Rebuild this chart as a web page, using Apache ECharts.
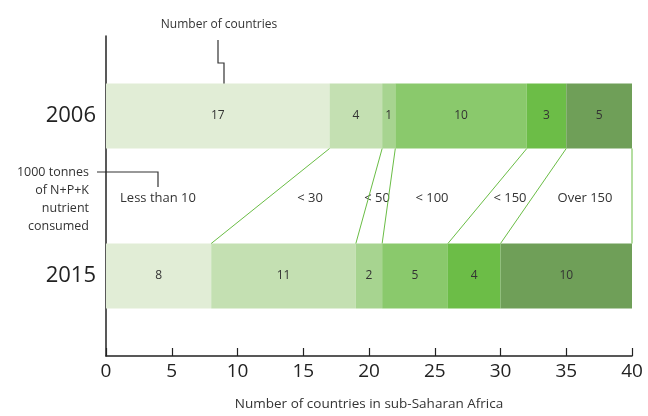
<!DOCTYPE html>
<html>
<head>
<meta charset="utf-8">
<script src="https://cdn.jsdelivr.net/npm/echarts@6/dist/echarts.min.js"></script>
<style>html,body{margin:0;padding:0;background:#fff;}#c{width:648px;height:416px;}</style>
</head>
<body>
<div id="c"></div>
<script>
var years = ['2006', '2015'];
var classes = ['Less than 10', '< 30', '< 50', '< 100', '< 150', 'Over 150'];
var counts2006 = [17, 4, 1, 10, 3, 5];
var counts2015 = [8, 11, 2, 5, 4, 10];
var xTicks = [0, 5, 10, 15, 20, 25, 30, 35, 40];
var colors = ['#e1edd6', '#c4e0b2', '#a7d490', '#8ac96c', '#6cbd47', '#6f9f58'];

var FONT = '"Open Sans", "Noto Sans", sans-serif';
var BAR_W = 65;

function cumulative(arr) {
  var out = [], s = 0;
  for (var i = 0; i < arr.length; i++) { s += arr[i]; out.push(s); }
  return out;
}
var cum06 = cumulative(counts2006);
var cum15 = cumulative(counts2015);
var connectors = cum06.map(function (v, i) { return [v, cum15[i]]; });

var series = classes.map(function (name, i) {
  return {
    name: name,
    type: 'bar',
    stack: 'total',
    barWidth: BAR_W,
    data: [counts2006[i], counts2015[i]],
    itemStyle: { color: colors[i] },
    label: { show: true, position: 'inside', color: '#333', fontSize: 12, fontFamily: FONT },
    silent: true
  };
});

series.push({
  type: 'custom',
  data: connectors,
  silent: true,
  z: 5,
  renderItem: function (params, api) {
    var p1 = api.coord([api.value(0), 0]);
    var p2 = api.coord([api.value(1), 1]);
    return {
      type: 'line',
      shape: { x1: p1[0], y1: p1[1] + BAR_W / 2, x2: p2[0], y2: p2[1] - BAR_W / 2 },
      style: { stroke: '#6abd45', lineWidth: 1 }
    };
  }
});

var midY = 198;
var classLabelX = [158, 310, 377, 432, 510, 585];
var graphics = classes.map(function (c, i) {
  return {
    type: 'text', x: classLabelX[i], y: midY,
    style: { text: c, fill: '#333', font: '13px ' + FONT, textAlign: 'center', textVerticalAlign: 'middle' }
  };
});
graphics.push(
  { type: 'text', x: 219, y: 25,
    style: { text: 'Number of countries', fill: '#333', font: '12px ' + FONT, textAlign: 'center', textVerticalAlign: 'middle' } },
  { type: 'polyline', shape: { points: [[218, 40], [218, 63], [224, 63], [224, 96]] },
    style: { stroke: '#333', lineWidth: 1.2, fill: null } },
  { type: 'text', x: 89, y: 163,
    style: { text: '1000 tonnes\nof N+P+K\nnutrient\nconsumed', fill: '#333', font: '12.5px ' + FONT, textAlign: 'right', lineHeight: 18 } },
  { type: 'polyline', shape: { points: [[97, 172], [158, 172], [158, 187]] },
    style: { stroke: '#333', lineWidth: 1.2, fill: null } }
);

var chart = echarts.init(document.getElementById('c'), null, { renderer: 'canvas' });
chart.setOption({
  animation: false,
  backgroundColor: '#fff',
  grid: { left: 106, right: 16, top: 36, bottom: 57, containLabel: false },
  xAxis: {
    type: 'value', min: 0, max: 40, interval: 5,
    axisLine: { show: true, lineStyle: { color: '#222', width: 1.5 } },
    axisTick: { show: true, inside: true, length: 8, lineStyle: { color: '#222', width: 1.2 } },
    splitLine: { show: false },
    axisLabel: { color: '#222', fontSize: 19, fontFamily: FONT, margin: 6,
      formatter: function (v) { return xTicks.indexOf(v) >= 0 ? String(v) : ''; } },
    name: 'Number of countries in sub-Saharan Africa',
    nameLocation: 'middle', nameGap: 41,
    nameTextStyle: { color: '#333', fontSize: 13.5, fontFamily: FONT }
  },
  yAxis: {
    type: 'category', data: years, inverse: true,
    axisLine: { show: true, onZero: false, lineStyle: { color: '#222', width: 1.5 } },
    axisTick: { show: false },
    axisLabel: { color: '#222', fontSize: 22, fontFamily: FONT, margin: 10 }
  },
  series: series,
  graphic: graphics
});
</script>
</body>
</html>
